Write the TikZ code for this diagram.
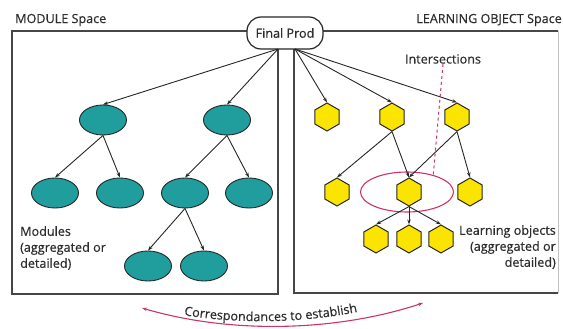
\documentclass[tikz,border=0pt]{standalone}
\usepackage{fontspec}
\setmainfont{Open Sans}[FakeBold=0.5]
\usetikzlibrary{arrows.meta, positioning, shapes.geometric, decorations.text}

\definecolor{modteal}{RGB}{32,158,158}
\definecolor{loyellow}{RGB}{250,228,0}
\definecolor{interpink}{RGB}{204,51,102}
\definecolor{boxgray}{RGB}{70,70,70}
\definecolor{textgray}{RGB}{45,45,45}

\begin{document}
\begin{tikzpicture}[
    x=1pt, y=-1pt,
    >={Stealth[length=5pt, width=3.5pt]},
    spacebox/.style={draw=boxgray, line width=1.2pt},
    module/.style={ellipse, draw=black!85, fill=modteal, line width=0.9pt,
        inner sep=0pt, minimum width=47pt, minimum height=30pt},
    lobj/.style={regular polygon, regular polygon sides=6, shape border rotate=30,
        draw=black!85, fill=loyellow, line width=1pt, inner sep=0pt, minimum size=28pt},
    link/.style={->, draw=black!85, line width=0.9pt},
    caption/.style={font=\fontsize{12.6}{16}\selectfont, text=textgray, inner sep=0pt}
]

    \useasboundingbox (0,0) rectangle (563,329);

    % Spaces -----------------------------------------------------

    \draw[spacebox] (12,31) rectangle (278,294);
    \draw[spacebox] (558,31) -- (294,31) -- (294,293) -- (558,293);
    \draw[draw=black!25, line width=0.8pt] (558,31) -- (558,293);

    \node[caption, anchor=west] (modspace) at (15,20) {MODULE Space};
    \node[caption, anchor=east] (lospace) at (562,20) {LEARNING OBJECT Space};

    \node[draw=black!85, fill=white, rounded corners=14pt, line width=1.2pt,
        minimum width=76pt, minimum height=32pt, font=\fontsize{12.6}{14}\selectfont,
        text=textgray] (final) at (285,33) {Final Prod};
    \coordinate (fl) at (278,49);
    \coordinate (fr) at (295,49);

    % Modules ----------------------------------------------------

    \node[module] (m1) at (103,120) {};
    \node[module] (m2) at (227,120) {};
    \node[module] (m11) at (55,193) {};
    \node[module] (m12) at (120,193) {};
    \node[module] (m21) at (185,193) {};
    \node[module] (m22) at (249,193) {};
    \node[module] (m211) at (148,266) {};
    \node[module] (m212) at (204,266) {};

    \node[caption, anchor=west, align=left] (modtext) at (20,248)
        {Modules\\(aggregated or\\detailed)};

    % Learning objects -------------------------------------------

    \node[ellipse, draw=interpink, line width=1.1pt, inner sep=0pt,
        minimum width=93pt, minimum height=40pt] (inter) at (407,192) {};

    \node[lobj] (l1) at (327,117) {};
    \node[lobj] (l2) at (392,117) {};
    \node[lobj] (l3) at (457,117) {};
    \node[lobj] (l21) at (337,192) {};
    \node[lobj] (l22) at (409,192) {};
    \node[lobj] (l23) at (470,192) {};
    \node[lobj] (l31) at (376,239) {};
    \node[lobj] (l32) at (409,239) {};
    \node[lobj] (l33) at (441,239) {};

    \node[caption, anchor=east, align=right] (lotext) at (556,247)
        {Learning objects\\(aggregated or\\detailed)};

    \node[caption] (isec) at (443,59) {Intersections};
    \draw[interpink, dashed, line width=1pt] (isec.south) -- (inter.33);

    % Arrows -----------------------------------------------------

    \draw[link] (fl) -- (m1.north);
    \draw[link] (fl) -- (m2.north);
    \draw[link] (m1.south) -- (m11.north);
    \draw[link] (m1.south) -- (m12.north);
    \draw[link] (m2.south) -- (m21.north);
    \draw[link] (m2.south) -- (m22.north);
    \draw[link] (m21.south) -- (m211.north);
    \draw[link] (m21.south) -- (m212.north);

    \draw[link] (fr) -- (l1.north);
    \draw[link] (fr) -- (l2.north);
    \draw[link] (fr) -- (l3.north);
    \draw[link] (l2.south) -- (l21.north);
    \draw[link] (l2.south) -- (l22.north);
    \draw[link] (l3.south) -- (l22.north);
    \draw[link] (l3.south) -- (l23.north);
    \draw[link] (l22.south) -- (l31.north);
    \draw[link] (l22.south) -- (l32.north);
    \draw[link] (l22.south) -- (l33.north);

    % Correspondance -----------------------------------------------

    \coordinate (cl) at (142,308);
    \coordinate (cr) at (423,303);
    \draw[<->, interpink, line width=1.1pt] (cl) .. controls (230,334) and (335,332) .. (cr);
    \path[decorate, decoration={text along path, text align=center,
        text={|\fontsize{12.6}{14}\selectfont\color{textgray}|Correspondances to establish}}]
        (130,303) .. controls (218,329) and (323,327) .. (411,298);

\end{tikzpicture}
\end{document}
